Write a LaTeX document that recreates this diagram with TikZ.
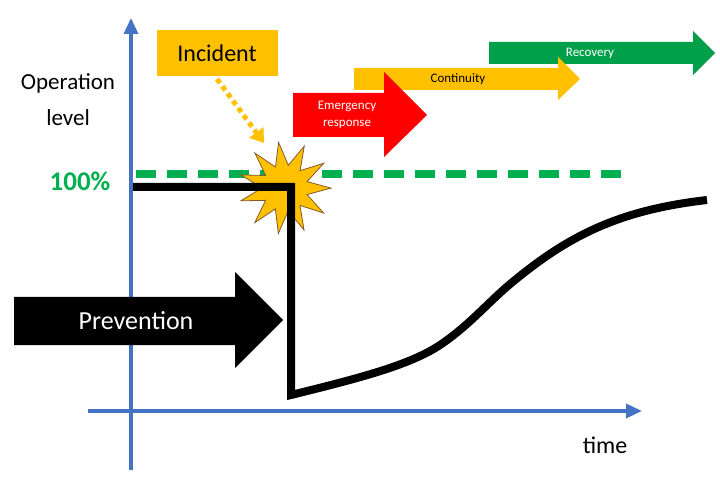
\documentclass[tikz,border=0pt]{standalone}
\usepackage{fontspec}
\setmainfont{Carlito}
\usetikzlibrary{shapes.geometric,arrows.meta}
\definecolor{axblue}{HTML}{4472C4}
\definecolor{org}{HTML}{FFC000}
\definecolor{grn}{HTML}{00A04A}
\definecolor{gdash}{HTML}{00B050}
\tikzset{
  axis/.style={axblue,line width=3.5pt,-{Triangle[length=16pt,width=14pt]}},
  lbl/.style={inner sep=0pt,anchor=center},
}
\begin{document}
\begin{tikzpicture}[x=1pt,y=-1pt]
\useasboundingbox (0,0) rectangle (720,486);
% axes
\coordinate (yb) at (131,470); \coordinate (yt) at (131,18);
\coordinate (xl) at (88,411); \coordinate (xr) at (642,411);
\draw[axis] (yb) -- (yt);
\draw[axis] (xl) -- (xr);
% labels
\node[lbl,align=center,font=\fontsize{23}{36}\selectfont] (ol) at (68,100) {Operation\\level};
\node[lbl,font=\fontsize{27}{30}\selectfont\bfseries,text=gdash] (hp) at (80,181) {100\%};
\node[lbl,font=\fontsize{24}{28}\selectfont] (tm) at (605,445) {time};
% dashed 100% line
\coordinate (d1) at (136,174); \coordinate (d2) at (628,174);
\draw[gdash,line width=8pt,dash pattern=on 20pt off 11pt] (d1) -- (d2);
% Prevention arrow
\fill[black] (14,297) -- (235,297) -- (235,272) -- (283,320) -- (235,368) -- (235,345) -- (14,345) -- cycle;
\node[lbl,text=white,font=\fontsize{26}{30}\selectfont] (pv) at (136,321) {Prevention};
% Star
\node[star,star points=11,star point ratio=2.0,minimum size=92pt,fill=org,draw=brown!70!black,line width=0.8pt,rotate=8,inner sep=0pt] (st) at (285,188) {};
% operation curve
\coordinate (c0) at (133,187); \coordinate (c1) at (291,187); \coordinate (c2) at (291,395);
\draw[line width=8pt,line join=miter] (c0) -- (c1) -- (c2)
  .. controls (360,378) and (410,365) .. (440,345)
  .. controls (470,325) and (490,300) .. (515,280)
  .. controls (570,235) and (620,210) .. (707,200);
% phase arrows
\fill[grn] (489,42) -- (693,42) -- (693,31) -- (715,53) -- (693,75) -- (693,64) -- (489,64) -- cycle;
\node[lbl,text=white,font=\fontsize{13}{15}\selectfont] (rc) at (590,53) {Recovery};
\fill[org] (354,68) -- (558,68) -- (558,57) -- (580,79) -- (558,100) -- (558,90) -- (354,90) -- cycle;
\node[lbl,font=\fontsize{13}{15}\selectfont] (ct) at (458,79) {Continuity};
\fill[red] (293,93) -- (384,93) -- (384,72) -- (427,115) -- (384,157) -- (384,137) -- (293,137) -- cycle;
\node[lbl,text=white,align=center,font=\fontsize{13}{17}\selectfont] (er) at (347,115) {Emergency\\response};
% Incident
\node[fill=org,minimum width=121pt,minimum height=46pt,inner sep=0pt,font=\fontsize{24}{28}\selectfont] (inc) at (217,53) {Incident};
\coordinate (ia) at (217,79); \coordinate (ib) at (264,143);
\draw[org,line width=5pt,dash pattern=on 5pt off 4pt,-{Triangle[length=13pt,width=17pt]}] (ia) -- (ib);
\end{tikzpicture}
\end{document}
